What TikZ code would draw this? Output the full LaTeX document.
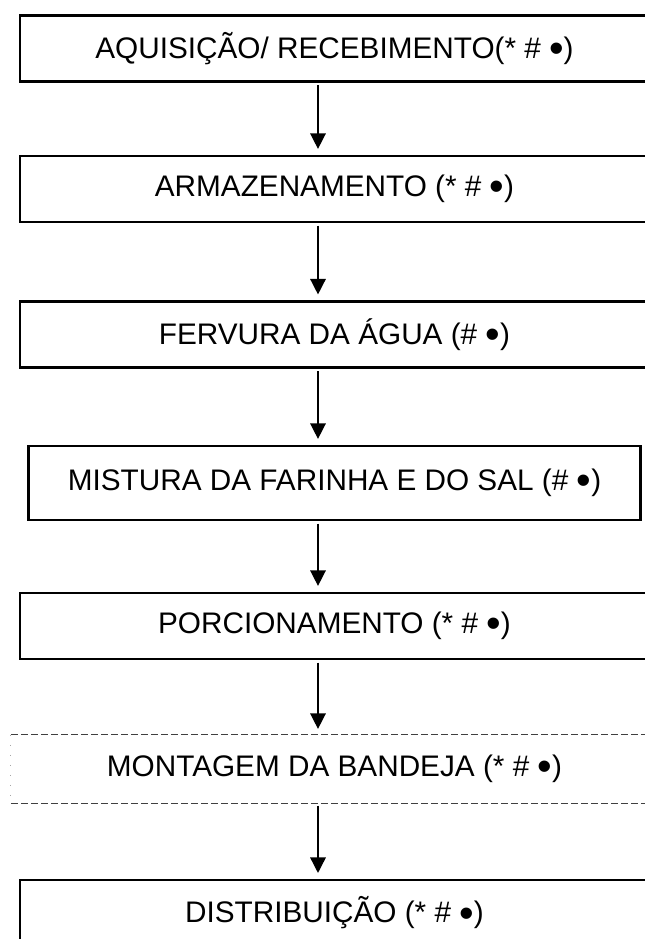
\documentclass[tikz,border=0pt]{standalone}
\usepackage{fontspec}
\setmainfont{Liberation Sans}
\usetikzlibrary{arrows.meta}
\newcommand{\bigbullet}{\raisebox{-3.2pt}{\scalebox{1.4}{•}}}
\tikzstyle{process} = [rectangle, minimum width=471.75pt, minimum height=49.5pt, text centered, draw=black, line width=1.6pt, font=\fontsize{22.3}{26}\selectfont]
\tikzstyle{widebox} = [process, minimum width=459pt, minimum height=55.5pt]
\tikzstyle{optional} = [process, draw=none, minimum width=483.75pt]
\tikzstyle{arrow} = [line width=1.1pt, -{Triangle[width=11.7pt, length=11.7pt]}, shorten <=2pt, shorten >=4.5pt]
\tikzstyle{dashline} = [line width=0.75pt, draw=black!75, dash pattern=on 5pt off 2.5pt]
\tikzstyle{dotline} = [line width=0.75pt, draw=black!35, dash pattern=on 0.75pt off 6.75pt]

\begin{document}
\begin{tikzpicture}[x=0.75pt, y=-0.75pt, node distance=107.25pt]
		\useasboundingbox (0,0) rectangle (645,939);
		\clip (0,0) rectangle (645,939);
		\coordinate (axis) at (318,0);
		
		\node (acq) [process] at (334.5,48.5) {AQUISIÇÃO/ RECEBIMENTO(* \# \bigbullet)};
		\node (arm) [process, below of=acq, yshift=1.9pt] {ARMAZENAMENTO (* \# \bigbullet)};
		\node (ferv) [process, below of=arm, yshift=-1.9pt] {FERVURA DA ÁGUA (\# \bigbullet)};
		\node (mist) [widebox, below of=ferv, yshift=-4.1pt] {MISTURA DA FARINHA E DO SAL (\# \bigbullet)};
		\node (porc) [process, below of=mist] {PORCIONAMENTO (* \# \bigbullet)};
		\node (mont) [optional, below of=porc] {MONTAGEM DA BANDEJA (* \# \bigbullet)};
		\node (dist) [process, below of=mont, yshift=-0.8pt] {DISTRIBUIÇÃO (* \# \bigbullet)};
		
		% dashed outline of the tray step
		\draw [dashline] (mont.north west) -- (mont.north east);
		\draw [dashline] (mont.south west) -- (mont.south east);
		\draw [dotline] (mont.north west) -- (mont.south west);
		
		\draw [arrow] (acq.south -| axis) -- (arm.north -| axis);
		\draw [arrow] (arm.south -| axis) -- (ferv.north -| axis);
		\draw [arrow] (ferv.south -| axis) -- (mist.north -| axis);
		\draw [arrow] (mist.south -| axis) -- (porc.north -| axis);
		\draw [arrow] (porc.south -| axis) -- (mont.north -| axis);
		\draw [arrow] (mont.south -| axis) -- (dist.north -| axis);
		
		\end{tikzpicture}
\end{document}
